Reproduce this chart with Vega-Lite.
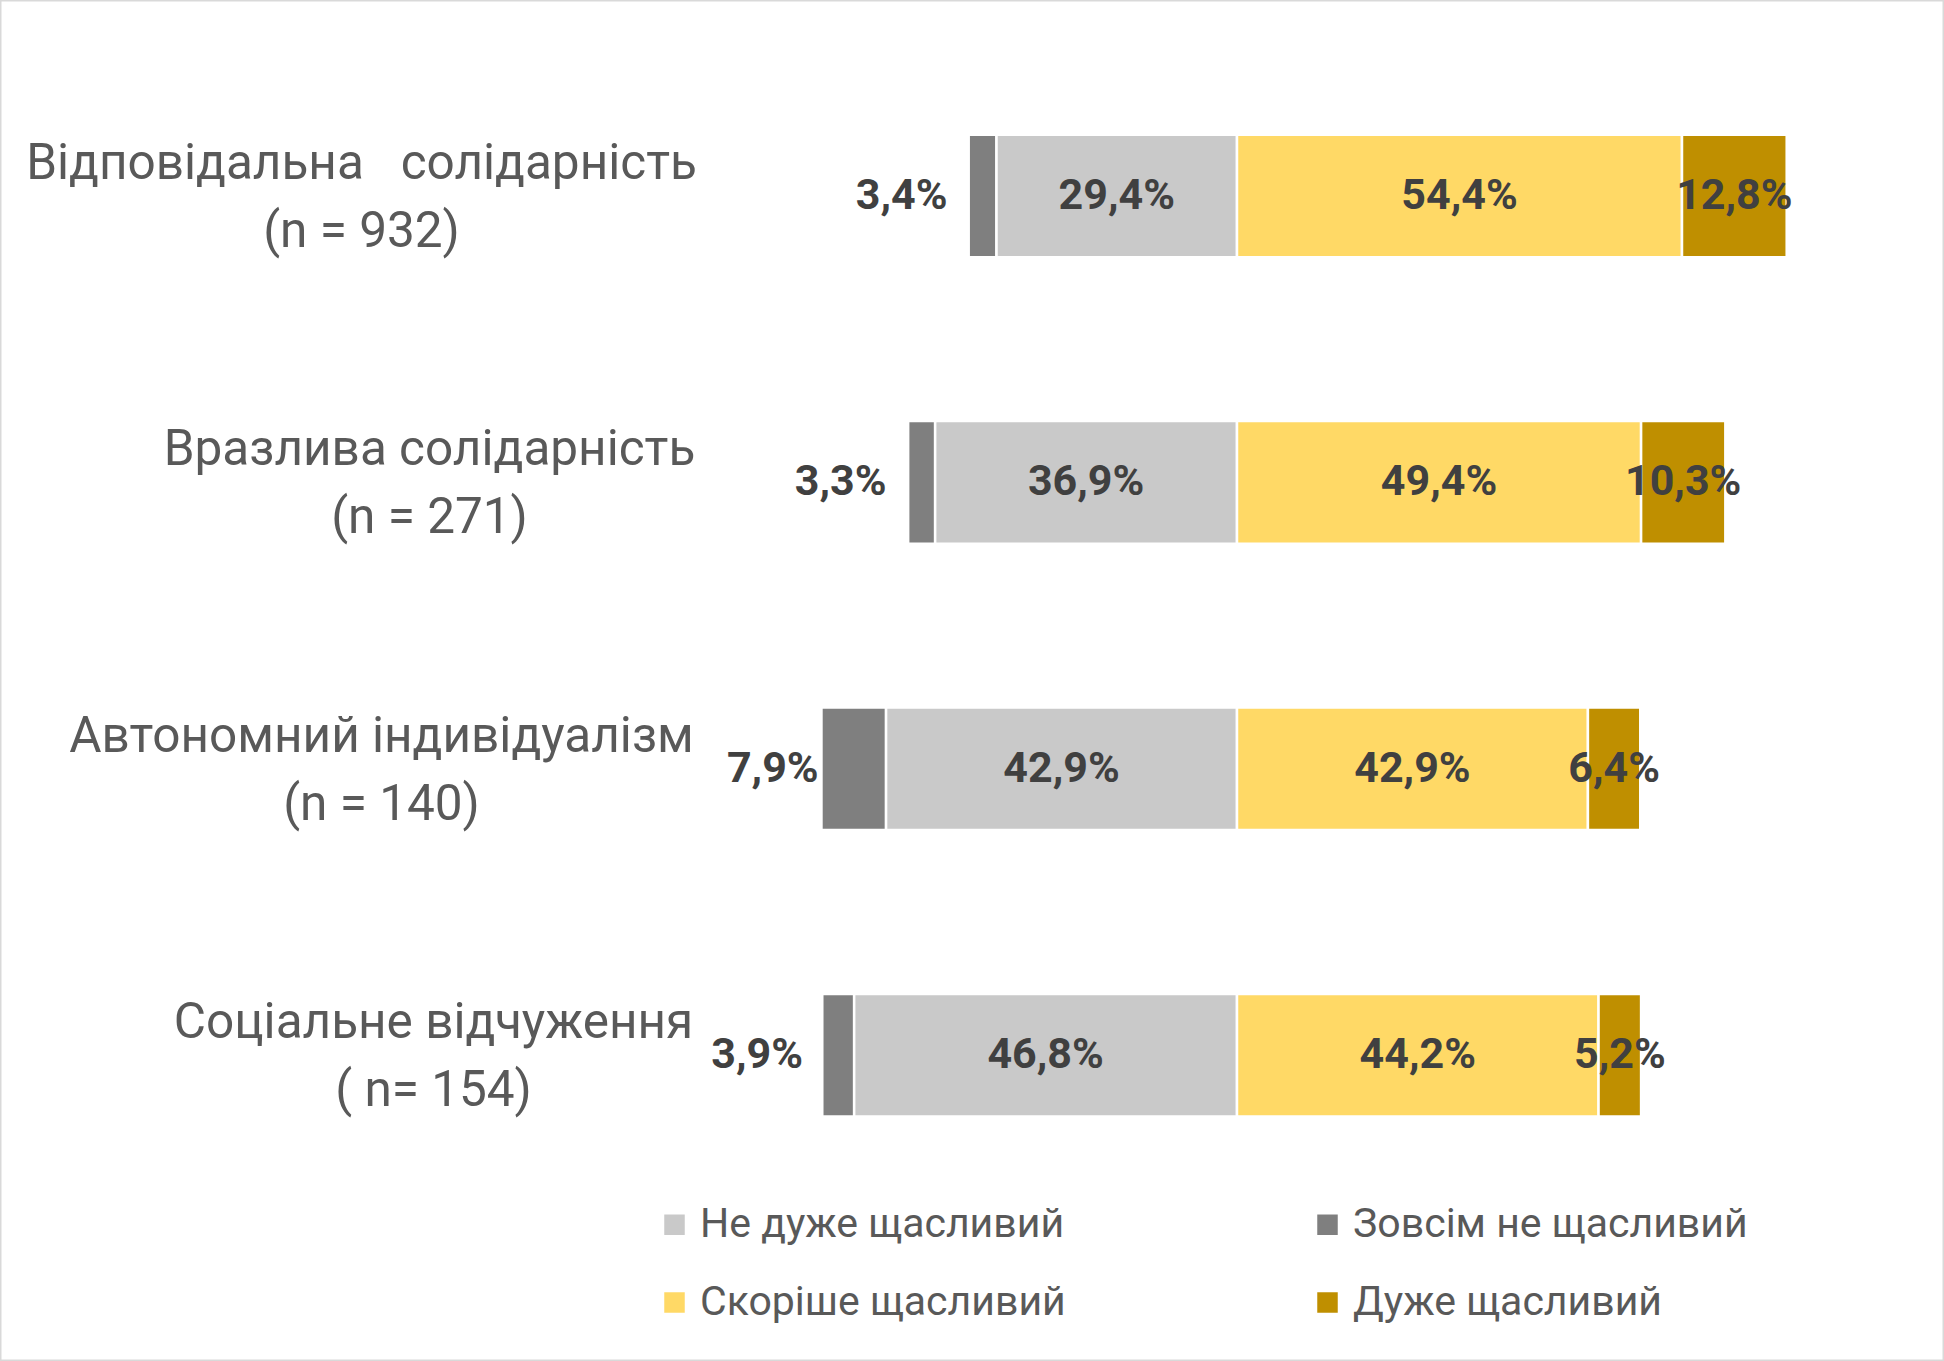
{
  "$schema": "https://vega.github.io/schema/vega-lite/v6.json",
  "width": 1944,
  "height": 1361,
  "autosize": "none",
  "padding": 0,
  "background": "#FFFFFF",
  "config": {
    "font": "Roboto",
    "view": {"stroke": "#D9D9D9", "strokeWidth": 3}
  },
  "data": {
    "values": [
      {"group": "Відповідальна\u00a0\u00a0\u00a0солідарність|(n = 932)", "category": "Зовсім не щасливий", "value": -3.4},
      {"group": "Відповідальна\u00a0\u00a0\u00a0солідарність|(n = 932)", "category": "Не дуже щасливий", "value": -29.4},
      {"group": "Відповідальна\u00a0\u00a0\u00a0солідарність|(n = 932)", "category": "Скоріше щасливий", "value": 54.4},
      {"group": "Відповідальна\u00a0\u00a0\u00a0солідарність|(n = 932)", "category": "Дуже щасливий", "value": 12.8},
      {"group": "Вразлива солідарність|(n = 271)", "category": "Зовсім не щасливий", "value": -3.3},
      {"group": "Вразлива солідарність|(n = 271)", "category": "Не дуже щасливий", "value": -36.9},
      {"group": "Вразлива солідарність|(n = 271)", "category": "Скоріше щасливий", "value": 49.4},
      {"group": "Вразлива солідарність|(n = 271)", "category": "Дуже щасливий", "value": 10.3},
      {"group": "Автономний індивідуалізм|(n = 140)", "category": "Зовсім не щасливий", "value": -7.9},
      {"group": "Автономний індивідуалізм|(n = 140)", "category": "Не дуже щасливий", "value": -42.9},
      {"group": "Автономний індивідуалізм|(n = 140)", "category": "Скоріше щасливий", "value": 42.9},
      {"group": "Автономний індивідуалізм|(n = 140)", "category": "Дуже щасливий", "value": 6.4},
      {"group": "Соціальне відчуження|( n= 154)", "category": "Зовсім не щасливий", "value": -3.9},
      {"group": "Соціальне відчуження|( n= 154)", "category": "Не дуже щасливий", "value": -46.8},
      {"group": "Соціальне відчуження|( n= 154)", "category": "Скоріше щасливий", "value": 44.2},
      {"group": "Соціальне відчуження|( n= 154)", "category": "Дуже щасливий", "value": 5.2}
    ]
  },
  "transform": [
    {"calculate": "indexof(['Не дуже щасливий','Зовсім не щасливий','Скоріше щасливий','Дуже щасливий'], datum.category)", "as": "ord"},
    {"stack": "value", "groupby": ["group"], "sort": [{"field": "ord", "order": "ascending"}], "as": ["v0", "v1"]},
    {"calculate": "(datum.v0 + datum.v1) / 2", "as": "mid"},
    {"calculate": "replace(format(abs(datum.value), '.1f'), '.', ',') + '%'", "as": "lab"}
  ],
  "encoding": {
    "y": {
      "field": "group",
      "type": "nominal",
      "sort": null,
      "scale": {"range": [52.8, 1198.4], "paddingInner": 0.572, "paddingOuter": 0.286},
      "axis": {
        "title": null,
        "orient": "left",
        "offset": -694,
        "domain": false,
        "ticks": false,
        "tickSize": 0,
        "labelExpr": "split(datum.label, '|')",
        "labelFontSize": 49.5,
        "labelLineHeight": 68,
        "labelColor": "#595959",
        "labelAlign": "center",
        "labelBaseline": "middle",
        "labelOffset": -32,
        "labelLimit": 0,
        "labelPadding": {
          "condition": [
            {"test": "indexof(datum.value, 'Відповідальна') == 0", "value": 333},
            {"test": "indexof(datum.value, 'Вразлива') == 0", "value": 265},
            {"test": "indexof(datum.value, 'Автономний') == 0", "value": 313}
          ],
          "value": 261
        }
      }
    }
  },
  "layer": [
    {
      "mark": {"type": "bar", "stroke": "#FFFFFF", "strokeWidth": 2.5},
      "encoding": {
        "x": {
          "field": "v0",
          "type": "quantitative",
          "scale": {"domain": [-151.22, 86.43], "nice": false, "zero": false},
          "axis": null
        },
        "x2": {"field": "v1"},
        "color": {
          "field": "category",
          "type": "nominal",
          "scale": {
            "domain": ["Не дуже щасливий", "Зовсім не щасливий", "Скоріше щасливий", "Дуже щасливий"],
            "range": ["#C9C9C9", "#7F7F7F", "#FFD966", "#BF8F00"]
          },
          "legend": {
            "title": null,
            "orient": "none",
            "legendX": 654,
            "legendY": 1204,
            "direction": "horizontal",
            "columns": 2,
            "symbolType": "square",
            "symbolSize": 420,
            "symbolStrokeWidth": 0,
            "labelFontSize": 41,
            "labelColor": "#595959",
            "labelOffset": 5,
            "labelLimit": 0,
            "columnPadding": 241,
            "rowPadding": 36,
            "padding": 0
          }
        }
      }
    },
    {
      "transform": [{"filter": "datum.category != 'Зовсім не щасливий'"}],
      "mark": {"type": "text", "fontSize": 43, "fontWeight": "bold", "color": "#404040", "align": "center", "baseline": "middle"},
      "encoding": {
        "x": {"field": "mid", "type": "quantitative"},
        "text": {"field": "lab"}
      }
    },
    {
      "transform": [{"filter": "datum.category == 'Зовсім не щасливий'"}],
      "mark": {"type": "text", "fontSize": 43, "fontWeight": "bold", "color": "#404040", "align": "center", "baseline": "middle", "dx": -81},
      "encoding": {
        "x": {"field": "mid", "type": "quantitative"},
        "text": {"field": "lab"}
      }
    }
  ]
}
